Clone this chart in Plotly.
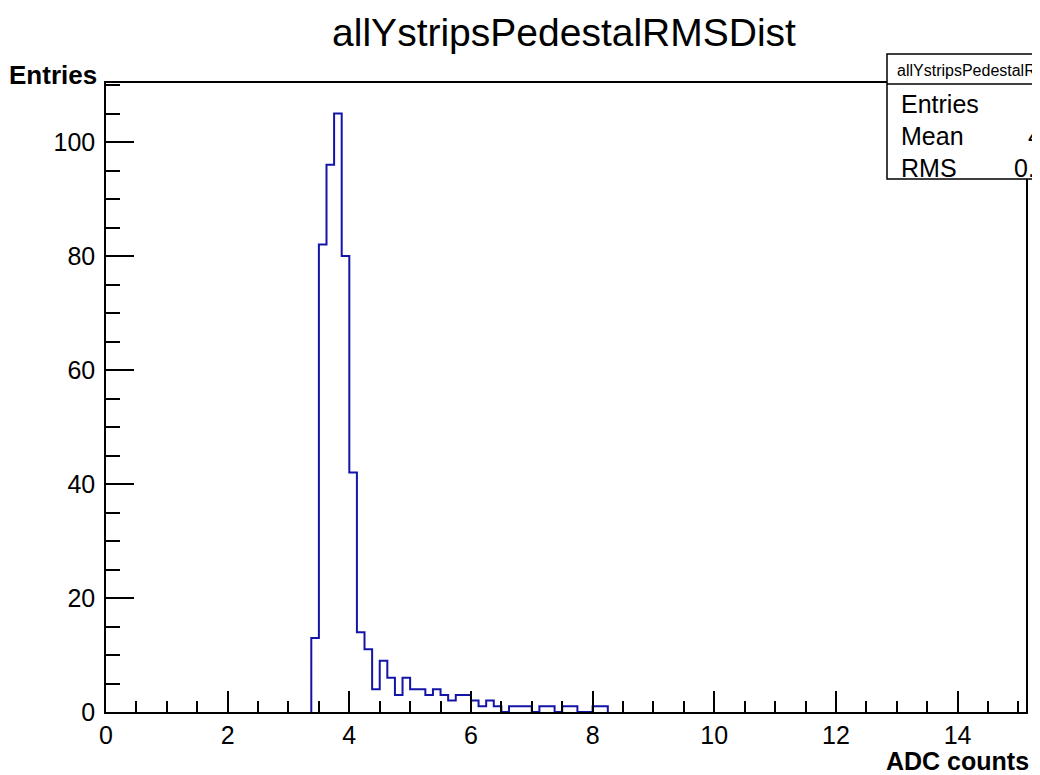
import numpy as np
import plotly.graph_objects as go

# ---- data ----
title = "allYstripsPedestalRMSDist"
bin_start = 3.375      # low edge of first filled bin (ADC counts)
bin_width = 0.125
counts = [13, 82, 96, 105, 80, 42, 14, 11, 4, 9, 6, 3, 6, 4, 4, 3, 4, 3, 2, 3,
          3, 2, 1, 2, 1, 0, 1, 1, 1, 0, 1, 1, 0, 1, 1, 0, 0, 1, 1]
x_range = [0, 15.125]
y_range = [0, 110.35]
x_ticks = [0, 2, 4, 6, 8, 10, 12, 14]
y_ticks = [0, 20, 40, 60, 80, 100]

counts = np.array(counts, dtype=float)
edges = bin_start + bin_width * np.arange(len(counts) + 1)
centers = 0.5 * (edges[:-1] + edges[1:])
n_entries = int(counts.sum())
mean = float((counts * centers).sum() / counts.sum())
rms = float(np.sqrt((counts * (centers - mean) ** 2).sum() / counts.sum()))

# step outline (ROOT style)
xs = np.concatenate([[edges[0]], edges[:-1], [edges[-1]], [edges[-1]]])
ys = np.concatenate([[0], counts, [counts[-1]], [0]])

# page body has an 8px margin; figure is placed at (8, 8) in the window
OFF = 8
W, H = 1040 - OFF, 775 - OFF
L, R, T, B = 106 - OFF, 14, 83 - OFF, 63
pw, ph = W - L - R, H - T - B


def px(x):
    """window pixel x -> paper coordinate"""
    return (x - OFF - L) / pw


def py(y):
    """window pixel y -> paper coordinate"""
    return (H - B - (y - OFF)) / ph


FONT = "Liberation Sans, Arial, Helvetica, sans-serif"

fig = go.Figure()
fig.add_trace(go.Scatter(x=xs, y=ys, mode="lines", line_shape="hv",
                         line=dict(color="#1414a8", width=2),
                         hoverinfo="skip", showlegend=False))

axis_common = dict(showline=True, linecolor="black", linewidth=1.5, mirror=True,
                   showgrid=False, zeroline=False, ticks="inside",
                   tickcolor="black", tickwidth=1.5,
                   tickfont=dict(family=FONT, size=25, color="black"))

fig.update_xaxes(range=x_range, tickvals=x_ticks, ticklen=21,
                 ticklabelstandoff=0,
                 minor=dict(dtick=0.5, ticklen=11, ticks="inside",
                            tickcolor="black", tickwidth=1.5),
                 **axis_common)
fig.update_yaxes(range=y_range, tickvals=y_ticks, ticklen=28,
                 ticklabelstandoff=4,
                 minor=dict(dtick=5, ticklen=14, ticks="inside",
                            tickcolor="black", tickwidth=1.5),
                 **axis_common)

fig.update_layout(
    width=W, height=H,
    margin=dict(l=L, r=R, t=T, b=B),
    paper_bgcolor="white", plot_bgcolor="white",
    title=dict(text=title, x=px(564), xref="paper", xanchor="center",
               y=1 - (32 - OFF) / H, yanchor="middle",
               font=dict(family=FONT, size=39, color="black")),
)

ann = []
ann.append(dict(text="<b>Entries</b>", xref="paper", yref="paper",
                x=px(99), y=py(75), xanchor="right", yanchor="middle",
                showarrow=False, font=dict(family=FONT, size=26, color="black")))
ann.append(dict(text="<b>ADC counts</b>", xref="paper", yref="paper",
                x=px(1031), y=py(761), xanchor="right", yanchor="middle",
                showarrow=False, font=dict(family=FONT, size=25, color="black")))

# stats box
bx0, bx1, by0, by1, bsep = 887, 1100, 54, 179, 84
shapes = [
    dict(type="rect", xref="paper", yref="paper", x0=px(bx0), x1=px(bx1),
         y0=py(by1), y1=py(by0), line=dict(color="black", width=1.5),
         fillcolor="white", layer="above"),
    dict(type="line", xref="paper", yref="paper", x0=px(bx0), x1=px(bx1),
         y0=py(bsep), y1=py(bsep), line=dict(color="black", width=1.5),
         layer="above"),
]
ann.append(dict(text=title, xref="paper", yref="paper", x=px(992), y=py(70),
                xanchor="center", yanchor="middle", showarrow=False,
                font=dict(family=FONT, size=16, color="black")))
rows = [("Entries", f"{n_entries}", 104),
        ("Mean", f"{mean:.4g}", 136),
        ("RMS", f"{rms:.4g}", 168)]
for name, val, yy in rows:
    ann.append(dict(text=name, xref="paper", yref="paper", x=px(899), y=py(yy),
                    xanchor="left", yanchor="middle", showarrow=False,
                    font=dict(family=FONT, size=25, color="black")))
    ann.append(dict(text=val, xref="paper", yref="paper", x=px(1093), y=py(yy),
                    xanchor="right", yanchor="middle", showarrow=False,
                    font=dict(family=FONT, size=25, color="black")))

fig.update_layout(annotations=ann, shapes=shapes)
fig.write_html("out.html")
